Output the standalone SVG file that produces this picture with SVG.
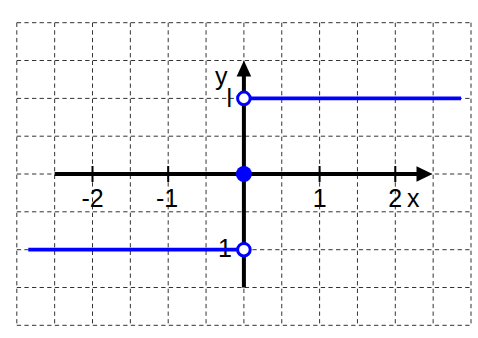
<svg xmlns="http://www.w3.org/2000/svg" width="478" height="338" viewBox="0 0 478 338">
<style>
.grid{stroke:#333;stroke-width:1;stroke-dasharray:4.3 3.3;fill:none}
.axis{stroke:#000;stroke-width:4;fill:none}
.tick{stroke:#000;stroke-width:2;fill:none}
.lbl{font-family:"Liberation Sans",Arial,sans-serif;font-size:25px;fill:#000}
.fn{stroke:#0000ff;stroke-width:3.8;fill:none}
.open{fill:#fff;stroke:#0000ff;stroke-width:3}
.dot{fill:#0000ff}
</style>
<rect width="478" height="338" fill="#fff"/>
<g id="grid" class="grid">
<path d="M16.8 22.7V325.3M54.65 22.7V325.3M92.5 22.7V325.3M130.35 22.7V325.3M168.2 22.7V325.3M206.05 22.7V325.3M243.9 22.7V325.3M281.75 22.7V325.3M319.6 22.7V325.3M357.45 22.7V325.3M395.3 22.7V325.3M433.15 22.7V325.3M471 22.7V325.3"/>
<path d="M16.8 22.7H471M16.8 60.5H471M16.8 98.4H471M16.8 136.2H471M16.8 174H471M16.8 211.8H471M16.8 249.7H471M16.8 287.5H471M16.8 325.3H471"/>
</g>
<g id="axes">
<path class="axis" d="M54.65 174H418"/>
<path d="M432.5 174L416.5 166.3V181.7Z" fill="#000"/>
<path class="axis" d="M243.9 287.5V74"/>
<path d="M243.9 60.5L236.6 76.5H251.2Z" fill="#000"/>
<path class="tick" d="M92.5 166V182M168.2 166V182M319.6 166V182M395.3 166V182"/>
</g>
<g id="labels" class="lbl">
<text x="92.5" y="207" text-anchor="middle">-2</text>
<text x="167" y="207" text-anchor="middle">-1</text>
<text x="319.6" y="207" text-anchor="middle">1</text>
<text x="395.3" y="207" text-anchor="middle">2</text>
<text x="407" y="207">x</text>
<text x="215" y="85">y</text>
<text x="226.5" y="107">l</text>
<text x="232" y="257" text-anchor="end">-1</text>
</g>
<g id="function">
<path class="fn" d="M243.9 98.4H461"/>
<path class="fn" d="M28.3 249.7H243.9"/>
<circle class="open" cx="243.9" cy="98.4" r="6.3"/>
<circle class="open" cx="243.9" cy="249.7" r="6.3"/>
<circle class="dot" cx="243.9" cy="174" r="8"/>
</g>
</svg>
